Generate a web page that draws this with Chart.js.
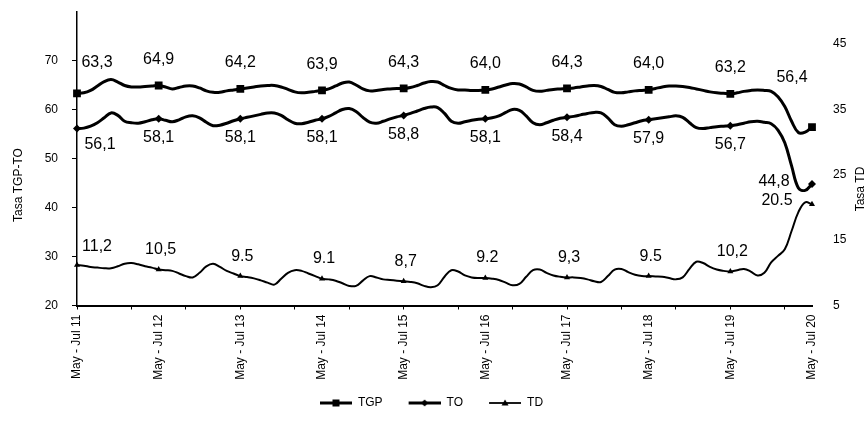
<!DOCTYPE html>
<html>
<head>
<meta charset="utf-8">
<script src="https://cdn.jsdelivr.net/npm/chart.js@4.4.1/dist/chart.umd.min.js"></script>
<style>
  html, body { margin: 0; padding: 0; background: #fff; }
  canvas { display: block; }
</style>
</head>
<body>
<canvas id="grafico" width="867" height="435"></canvas>
<script>
// Trimestres móviles, de May-Jul 2011 a May-Jul 2020
const trimestres = ['May - Jul', 'Jun - Ago', 'Jul - Set', 'Ago - Oct', 'Set - Nov', 'Oct - Dic',
                    'Nov - Ene', 'Dic - Feb', 'Ene - Mar', 'Feb - Abr', 'Mar - May', 'Abr - Jun'];
const categorias = [];
for (let i = 0; i <= 108; i++) {
    categorias.push(trimestres[i % 12] + ' ' + (11 + Math.floor((i + 6) / 12)));
}

// Tasa global de participación
const tgp = [
    63.3, 63.4, 63.9, 64.8, 65.7, 66.1, 65.6, 64.9, 64.6, 64.6, 64.7, 64.8, 64.9,
    64.6, 64.2, 64.5, 64.8, 64.8, 64.4, 63.8, 63.5, 63.5, 63.8, 64.0, 64.2,
    64.4, 64.6, 64.8, 64.9, 64.9, 64.6, 64.1, 63.6, 63.4, 63.5, 63.7, 63.9,
    64.2, 64.8, 65.4, 65.6, 65.0, 64.2, 63.8, 63.9, 64.1, 64.2, 64.3, 64.3,
    64.5, 64.9, 65.4, 65.7, 65.6, 64.9, 64.3, 64.0, 64.0, 63.9, 63.9, 64.0,
    64.2, 64.6, 65.0, 65.3, 65.2, 64.6, 63.9, 63.7, 63.9, 64.1, 64.2, 64.3,
    64.4, 64.6, 64.8, 64.9, 64.7, 64.1, 63.5, 63.4, 63.6, 63.8, 63.9, 64.0,
    64.3, 64.6, 64.8, 64.8, 64.7, 64.5, 64.2, 63.9, 63.6, 63.4, 63.3, 63.2,
    63.4, 63.7, 63.9, 64.0, 63.9, 63.7, 62.6, 60.6, 57.6, 55.3, 55.4, 56.4
];
// Tasa de ocupación
const to = [
    56.1, 56.2, 56.6, 57.3, 58.3, 59.3, 58.8, 57.6, 57.3, 57.2, 57.5, 57.9, 58.1,
    57.8, 57.5, 57.9, 58.5, 58.7, 58.3, 57.4, 56.7, 56.8, 57.2, 57.7, 58.1,
    58.4, 58.7, 59.0, 59.3, 59.3, 58.8, 57.9, 57.2, 57.1, 57.4, 57.8, 58.1,
    58.6, 59.3, 60.0, 60.2, 59.6, 58.4, 57.4, 57.2, 57.6, 58.1, 58.5, 58.8,
    59.2, 59.7, 60.2, 60.5, 60.4, 59.2, 57.6, 57.2, 57.5, 57.8, 58.0, 58.1,
    58.3, 58.7, 59.4, 60.0, 59.8, 58.7, 57.3, 56.9, 57.3, 57.8, 58.2, 58.4,
    58.6, 58.9, 59.2, 59.4, 59.3, 58.3, 56.9, 56.6, 56.9, 57.3, 57.7, 57.9,
    58.1, 58.3, 58.5, 58.7, 58.4, 57.3, 56.3, 56.1, 56.3, 56.5, 56.6, 56.7,
    56.9, 57.2, 57.5, 57.6, 57.4, 57.1, 55.8, 53.2, 48.5, 44.0, 43.5, 44.8
];
// Tasa de desempleo (eje derecho)
const td = [
    11.2, 11.1, 10.9, 10.8, 10.7, 10.7, 11.0, 11.4, 11.5, 11.3, 11.0, 10.8, 10.5,
    10.4, 10.3, 9.9, 9.5, 9.3, 10.0, 11.0, 11.4, 10.9, 10.3, 9.9, 9.5,
    9.35, 9.15, 8.85, 8.5, 8.2, 9.1, 10.0, 10.4, 10.3, 9.9, 9.5, 9.1,
    9.0, 8.8, 8.4, 8.0, 8.0, 8.8, 9.5, 9.3, 9.0, 8.9, 8.8, 8.7,
    8.6, 8.4, 8.0, 7.8, 8.1, 9.4, 10.4, 10.2, 9.6, 9.3, 9.2, 9.2,
    9.1, 8.9, 8.5, 8.1, 8.3, 9.4, 10.4, 10.5, 10.0, 9.6, 9.4, 9.3,
    9.3, 9.2, 9.0, 8.7, 8.6, 9.5, 10.5, 10.6, 10.1, 9.7, 9.5, 9.5,
    9.45, 9.4, 9.2, 9.0, 9.3, 10.6, 11.7, 11.5, 10.9, 10.5, 10.3, 10.2,
    10.4, 10.6, 10.2, 9.6, 10.0, 11.6, 12.6, 13.6, 16.4, 19.3, 20.8, 20.5
];

// Etiquetas de los valores de cada May-Jul
const tgpTextos = ['63,3', '64,9', '64,2', '63,9', '64,3', '64,0', '64,3', '64,0', '63,2', '56,4'];
const toTextos  = ['56,1', '58,1', '58,1', '58,1', '58,8', '58,1', '58,4', '57,9', '56,7', '44,8'];
const tdTextos  = ['11,2', '10,5', '9.5', '9.1', '8,7', '9.2', '9,3', '9.5', '10,2', '20.5'];

const ticksIzq = [20, 30, 40, 50, 60, 70];
const ticksDer = [5, 15, 25, 35, 45];

const FUENTE = '"Liberation Sans", Arial, sans-serif';

// Iconos de la leyenda: línea con marcador (14 px libres a la izquierda)
function icono(estilo, grosor) {
    const c = document.createElement('canvas');
    c.width = 46; c.height = 12;
    const g = c.getContext('2d');
    g.strokeStyle = '#000'; g.fillStyle = '#000'; g.lineWidth = grosor;
    g.beginPath(); g.moveTo(14, 6); g.lineTo(46, 6); g.stroke();
    g.beginPath();
    if (estilo === 'rect') {
        g.rect(26.5, 2.5, 7, 7);
    } else if (estilo === 'rectRot') {
        g.moveTo(30, 2.5); g.lineTo(33.5, 6); g.lineTo(30, 9.5); g.lineTo(26.5, 6);
    } else {
        g.moveTo(30, 2.5); g.lineTo(33.5, 8.5); g.lineTo(26.5, 8.5);
    }
    g.closePath(); g.fill();
    return c;
}
const iconos = [icono('rect', 3), icono('rectRot', 3), icono('triangle', 1.8)];

const marcador = r => (c => c.dataIndex % 12 === 0 ? r : 0);

// Textos de valores y títulos de ejes
const textosPlugin = {
    id: 'textos',
    afterDatasetsDraw(chart) {
        const ctx = chart.ctx;
        ctx.save();
        ctx.fillStyle = '#000';
        ctx.textAlign = 'center';
        ctx.textBaseline = 'middle';
        ctx.font = '16px ' + FUENTE;
        chart.data.datasets.forEach((ds, di) => {
            const meta = chart.getDatasetMeta(di);
            const p = ds.posTexto;
            ds.textos.forEach((t, k) => {
                const el = meta.data[k * 12];
                const ultimo = k === ds.textos.length - 1;
                const dx = k === 0 ? p.dx0 : (ultimo ? p.dxN : p.dx);
                const dy = ultimo ? p.dyN : (k === 0 ? p.dy0 : p.dy);
                ctx.fillText(t, el.x + dx, el.y + dy);
            });
        });
        ctx.font = '12px ' + FUENTE;
        ctx.translate(19, 185);
        ctx.rotate(-Math.PI / 2);
        ctx.fillText('Tasa TGP-TO', 0, 0);
        ctx.restore();
        ctx.save();
        ctx.fillStyle = '#000';
        ctx.textAlign = 'center';
        ctx.textBaseline = 'middle';
        ctx.font = '12px ' + FUENTE;
        ctx.translate(861, 189);
        ctx.rotate(-Math.PI / 2);
        ctx.fillText('Tasa TD', 0, 0);
        ctx.restore();
    }
};

const sinPadding = s => { s.paddingTop = 0; s.paddingBottom = 0; s.paddingLeft = 0; s.paddingRight = 0; };

const ctx = document.getElementById('grafico').getContext('2d');
const chart = new Chart(ctx, {
    type: 'line',
    data: {
        labels: categorias,
        datasets: [
            {
                label: 'TGP',
                data: tgp,
                yAxisID: 'y',
                borderColor: '#000',
                backgroundColor: '#000',
                borderWidth: 3,
                tension: 0.4,
                pointStyle: 'rect',
                pointRadius: marcador(5.5),
                pointBorderWidth: 0,
                textos: tgpTextos,
                posTexto: { dx0: 20, dy0: -31, dx: 0, dy: -26, dxN: -20, dyN: -50 }
            },
            {
                label: 'TO',
                data: to,
                yAxisID: 'y',
                borderColor: '#000',
                backgroundColor: '#000',
                borderWidth: 3,
                tension: 0.4,
                pointStyle: 'rectRot',
                pointRadius: marcador(4),
                pointBorderWidth: 0,
                textos: toTextos,
                posTexto: { dx0: 23, dy0: 16, dx: 0, dy: 19, dxN: -38, dyN: -2 }
            },
            {
                label: 'TD',
                data: td,
                yAxisID: 'y1',
                borderColor: '#000',
                backgroundColor: '#000',
                borderWidth: 2,
                tension: 0.4,
                pointStyle: 'triangle',
                pointRadius: marcador(3.5),
                pointBorderWidth: 0,
                textos: tdTextos,
                posTexto: { dx0: 20, dy0: -18, dx: 2, dy: -20, dxN: -35, dyN: -4 }
            }
        ]
    },
    options: {
        responsive: false,
        animation: false,
        layout: { padding: { top: 11.5, bottom: 16, left: 0, right: 18 } },
        plugins: {
            tooltip: { enabled: false },
            legend: {
                position: 'bottom',
                labels: {
                    usePointStyle: true,
                    pointStyleWidth: 46,
                    padding: 12,
                    color: '#000',
                    font: { family: FUENTE, size: 12 },
                    generateLabels: c => Chart.defaults.plugins.legend.labels.generateLabels(c)
                        .map((it, i) => Object.assign(it, { pointStyle: iconos[i] }))
                }
            }
        },
        scales: {
            x: {
                type: 'category',
                offset: false,
                grid: {
                    drawOnChartArea: false,
                    tickLength: 4,
                    tickColor: c => c.index % 8 === 0 ? '#000' : 'rgba(0,0,0,0)'
                },
                border: { color: '#000', width: 2 },
                ticks: {
                    autoSkip: false,
                    minRotation: 90,
                    maxRotation: 90,
                    padding: 5,
                    color: '#000',
                    font: { family: FUENTE, size: 12 },
                    callback: function (v, i) { return i % 12 === 0 ? this.getLabelForValue(v) : ''; }
                },
                afterFit: s => {
                    sinPadding(s);
                    const lg = s.chart.legend;
                    s.height = s.chart.height - 16 - (lg ? lg.height : 0) - 305.5;
                }
            },
            y: {
                position: 'left',
                min: 20,
                max: 80,
                grid: { drawOnChartArea: false, tickLength: 5, tickColor: '#000' },
                border: { color: '#000', width: 1.5 },
                ticks: { padding: 14, color: '#000', font: { family: FUENTE, size: 12 } },
                afterBuildTicks: s => { s.ticks = ticksIzq.map(v => ({ value: v })); },
                afterFit: s => { sinPadding(s); s.width = 77; }
            },
            y1: {
                position: 'right',
                min: 5,
                max: 50,
                grid: { display: false },
                border: { display: false },
                ticks: { padding: 13, color: '#000', font: { family: FUENTE, size: 12 } },
                afterBuildTicks: s => { s.ticks = ticksDer.map(v => ({ value: v })); },
                afterFit: s => { sinPadding(s); s.width = 37; }
            }
        }
    },
    plugins: [textosPlugin]
});
</script>
</body>
</html>
